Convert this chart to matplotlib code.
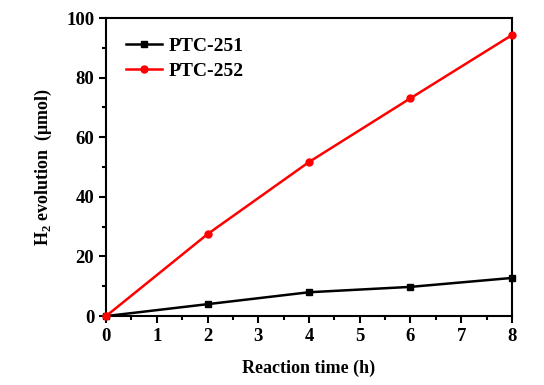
import numpy as np
import matplotlib
matplotlib.use('Agg')
import matplotlib.pyplot as plt
from matplotlib.ticker import MultipleLocator

plt.rcParams['font.family'] = ['Liberation Serif', 'DejaVu Serif']
plt.rcParams['font.weight'] = 'bold'
plt.rcParams['mathtext.fontset'] = 'custom'
plt.rcParams['mathtext.rm'] = 'Liberation Serif:bold'
plt.rcParams['mathtext.bf'] = 'Liberation Serif:bold'

# data
time_h = [0, 2, 4, 6, 8]
ptc251 = [0, 4.0, 8.0, 9.8, 12.8]
ptc252 = [0, 27.5, 51.7, 73.1, 94.3]

fig = plt.figure(figsize=(5.44, 3.85), dpi=100)
ax = fig.add_axes([0.195, 0.179, 0.746, 0.774])

ax.plot(time_h, ptc251, '-s', color='black', lw=1.8, ms=5, label='PTC-251', clip_on=False, zorder=3)
ax.plot(time_h, ptc252, '-o', color='red', lw=1.8, ms=5, label='PTC-252', clip_on=False, zorder=3)

ax.set_xlim(0, 8)
ax.set_ylim(0, 100)
ax.xaxis.set_major_locator(MultipleLocator(1))
ax.xaxis.set_minor_locator(MultipleLocator(0.5))
ax.yaxis.set_major_locator(MultipleLocator(20))
ax.yaxis.set_minor_locator(MultipleLocator(10))
ax.tick_params(which='both', direction='out', top=False, right=False, width=1.5)
ax.tick_params(which='major', length=5, labelsize=13.5)
ax.tick_params(which='minor', length=3)
for s in ax.spines.values():
    s.set_linewidth(1.5)

ax.set_xlabel('Reaction time (h)', fontsize=13, fontweight='bold', labelpad=11)
ax.set_ylabel(r'H$_2$ evolution  (μmol)', fontsize=13, fontweight='bold', labelpad=9)

ax.legend(loc='upper left', frameon=False, fontsize=14, handlelength=1.9,
          handletextpad=0.3, labelspacing=0.35, borderaxespad=0.6,
          bbox_to_anchor=(0.0, 1.0))

fig.savefig('out.png', dpi=100)
